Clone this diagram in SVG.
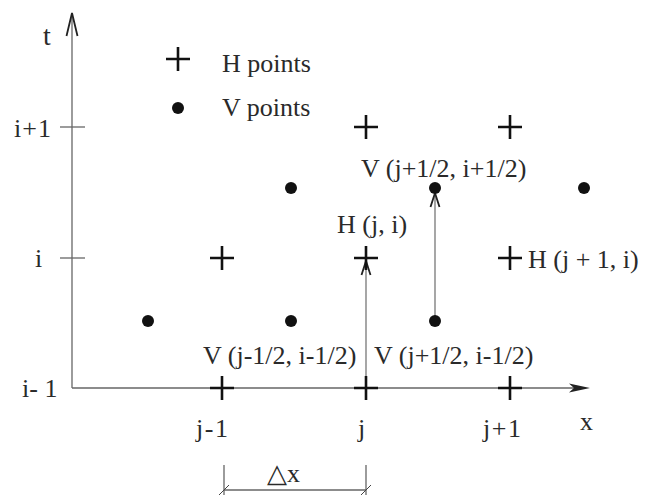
<svg xmlns="http://www.w3.org/2000/svg" width="650" height="495" viewBox="0 0 650 495">
<style>
.lbl{font-family:"Liberation Serif","Times New Roman",serif;font-size:26px;fill:#2a2a2a}
.big{font-size:28px}
.ax{stroke:#666;stroke-width:1.3;fill:none}
.conn{stroke:#777;stroke-width:1.3;fill:none}
.h{stroke:#111;stroke-width:2.6;fill:none}
.v{fill:#111}
</style>
<defs>
<path id="plus" d="M-12,0H12M0,-12V12"/>
<marker id="open" viewBox="-16 -6 18 12" refX="0" refY="0" markerWidth="18" markerHeight="12" markerUnits="userSpaceOnUse" orient="auto">
<path d="M-14,-4.5L0,0L-14,4.5" fill="none" stroke="#222" stroke-width="1.8"/>
</marker>
</defs>
<g id="axes">
<line class="ax" x1="72" y1="14" x2="72" y2="388"/>
<path d="M66.5,36L72,13L77.5,36" fill="none" stroke="#222" stroke-width="1.8"/>
<line class="ax" x1="72" y1="388" x2="575" y2="388"/>
<path d="M590,388L569,383.5L574,388L569,392.5Z" fill="#222"/>
<line class="ax" x1="60" y1="127" x2="85" y2="127"/>
<line class="ax" x1="60" y1="258" x2="85" y2="258"/>
<text class="lbl big" x="43" y="45">t</text>
<text class="lbl" x="580" y="430">x</text>
<text class="lbl" x="14" y="137" letter-spacing="1">i+1</text>
<text class="lbl" x="35" y="267">i</text>
<text class="lbl" x="22" y="397">i- 1</text>
<text class="lbl" x="196" y="437" letter-spacing="1.5">j-1</text>
<text class="lbl" x="358" y="437">j</text>
<text class="lbl" x="483" y="437" letter-spacing="1.5">j+1</text>
</g>
<g id="legend">
<use href="#plus" class="h" x="178" y="59"/>
<circle class="v" cx="178" cy="108" r="6"/>
<text class="lbl" x="222" y="72">H points</text>
<text class="lbl" x="222" y="116">V points</text>
</g>
<g id="connectors">
<line class="conn" x1="366" y1="388" x2="366" y2="261" marker-end="url(#open)"/>
<line class="conn" x1="435" y1="321" x2="435" y2="193" marker-end="url(#open)"/>
</g>
<g id="H-j1-i1"><use href="#plus" class="h" x="366" y="127"/></g>
<g id="H-j2-i1"><use href="#plus" class="h" x="510" y="127"/></g>
<g id="H-j0-i0"><use href="#plus" class="h" x="222" y="258"/></g>
<g id="H-j-i"><use href="#plus" class="h" x="366" y="258"/>
<text class="lbl" x="337" y="233">H (j, i)</text></g>
<g id="H-j+1-i"><use href="#plus" class="h" x="510" y="258"/>
<text class="lbl" x="528" y="268">H (j + 1, i)</text></g>
<g id="H-j0-im"><use href="#plus" class="h" x="222" y="388"/></g>
<g id="H-j1-im"><use href="#plus" class="h" x="366" y="388"/></g>
<g id="H-j2-im"><use href="#plus" class="h" x="510" y="388"/></g>
<g id="V-a"><circle class="v" cx="291" cy="188" r="6"/></g>
<g id="V-j+1/2-i+1/2"><circle class="v" cx="435" cy="188" r="6"/>
<text class="lbl" x="361" y="177">V (j+1/2, i+1/2)</text></g>
<g id="V-c"><circle class="v" cx="584" cy="188" r="6"/></g>
<g id="V-d"><circle class="v" cx="148" cy="321" r="6"/></g>
<g id="V-j-1/2-i-1/2"><circle class="v" cx="291" cy="321" r="6"/>
<text class="lbl" x="203" y="364">V (j-1/2, i-1/2)</text></g>
<g id="V-j+1/2-i-1/2"><circle class="v" cx="435" cy="321" r="6"/>
<text class="lbl" x="374" y="364">V (j+1/2, i-1/2)</text></g>
<g id="dimension">
<line class="ax" x1="224" y1="465" x2="224" y2="495" stroke-width="1"/>
<line class="ax" x1="366" y1="465" x2="366" y2="495" stroke-width="1"/>
<line class="ax" x1="224" y1="490" x2="366" y2="490" stroke-width="1"/>
<line x1="219" y1="495" x2="229" y2="485" stroke="#444" stroke-width="1"/>
<line x1="361" y1="495" x2="371" y2="485" stroke="#444" stroke-width="1"/>
<text class="lbl" x="267" y="482">△x</text>
</g>
</svg>
